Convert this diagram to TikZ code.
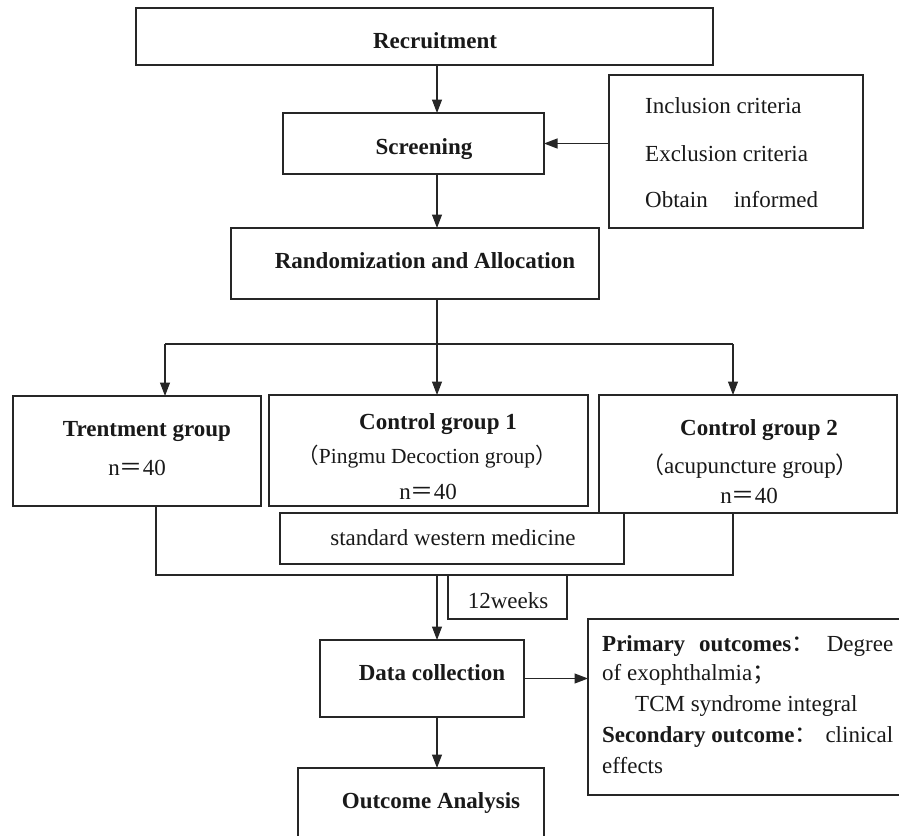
\documentclass[tikz,border=0pt]{standalone}
\usepackage{fontspec}
\setmainfont{Liberation Serif}
\newfontfamily\cjk{Noto Sans CJK SC}
\usetikzlibrary{arrows.meta}
\newcommand{\fw}[1]{{\cjk #1}}
\begin{document}
\begin{tikzpicture}[x=1pt,y=-1pt,
  bx/.style={draw=black!85, line width=1.1pt, inner sep=0pt, outer sep=0pt, anchor=north west},
  tx/.style={font=\fontsize{23}{27}\selectfont, inner sep=0pt, anchor=base, text=black!90},
  txl/.style={tx, anchor=base west},
  ln/.style={draw=black!85, line width=1.1pt},
  arr/.style={ln, -{Triangle[length=13.5pt,width=10pt]}}]
\useasboundingbox (0,0) rectangle (899,835);
\clip (0,0) rectangle (899,835);
\fill[white] (0,0) rectangle (899,835);
% boxes
\node[bx, minimum width=577pt, minimum height=57pt] (rec) at (136,8) {};
\node[bx, minimum width=261pt, minimum height=61pt] (scr) at (283,113) {};
\node[bx, minimum width=254pt, minimum height=153pt] (crit) at (609,75) {};
\node[bx, minimum width=368pt, minimum height=71pt] (rand) at (231,228) {};
\node[bx, minimum width=248pt, minimum height=110pt] (trt) at (13,396) {};
\node[bx, minimum width=319pt, minimum height=111pt] (c1) at (269,395) {};
\node[bx, minimum width=298pt, minimum height=118pt] (c2) at (599,395) {};
\node[bx, minimum width=344pt, minimum height=51pt] (swm) at (280,513) {};
\node[bx, minimum width=119pt, minimum height=44pt] (wk) at (448,575) {};
\node[bx, minimum width=204pt, minimum height=77pt] (dc) at (320,640) {};
\node[bx, minimum width=330pt, minimum height=176pt] (out) at (588,619) {};
\node[bx, minimum width=246pt, minimum height=90pt] (oa) at (298,768) {};
% coordinates
\coordinate (spine) at (437,0);
\coordinate (split) at (437,344);
\coordinate (sl) at (165,344);
\coordinate (sr) at (733,344);
\coordinate (jl) at (156,575);
\coordinate (jr) at (733,575);
\coordinate (jm) at (437,575);
% connectors
\draw[arr] (rec.south -| spine) -- (scr.north -| spine);
\draw[arr] (crit.west |- scr.east) -- (scr.east);
\draw[arr] (scr.south -| spine) -- (rand.north -| spine);
\draw[ln] (rand.south -| spine) -- (split);
\draw[ln] (sl) -- (sr);
\draw[arr] (sl) -- (sl |- trt.north);
\draw[arr] (split) -- (split |- c1.north);
\draw[arr] (sr) -- (sr |- c2.north);
\draw[ln] (jl |- trt.south) -- (jl) -- (jr) -- (jr |- c2.south);
\draw[arr] (jm) -- (jm |- dc.north);
\draw[arr] (dc.east) -- (dc.east -| out.west);
\draw[arr] (dc.south -| spine) -- (oa.north -| spine);
% texts
\node[tx] (trec) at (435,48) {\textbf{Recruitment}};
\node[tx] (tscr) at (424,154) {\textbf{Screening}};
\node[txl] (tc1) at (645,113) {Inclusion criteria};
\node[txl] (tc2) at (645,161) {Exclusion criteria};
\node[txl] (tc3) at (645,207) {Obtain\hspace{26pt}informed};
\node[tx] (trand) at (425,268) {\textbf{Randomization and Allocation}};
\node[tx] (ttrt) at (147,436) {\textbf{Trentment group}};
\node[tx] (ttrtn) at (137,475) {n\fw{＝}40};
\node[tx] (tc1a) at (438,429) {\textbf{Control group 1}};
\node[tx, font=\fontsize{21.5}{25}\selectfont] (tc1b) at (427,463) {\fw{（}Pingmu Decoction group\fw{）}};
\node[tx] (tc1n) at (428,499) {n\fw{＝}40};
\node[tx] (tc2a) at (759,435) {\textbf{Control group 2}};
\node[tx] (tc2b) at (750,473) {\fw{（}acupuncture group\fw{）}};
\node[tx] (tc2n) at (749,503) {n\fw{＝}40};
\node[tx] (tswm) at (453,545) {standard western medicine};
\node[tx] (twk) at (508,608) {12weeks};
\node[tx] (tdc) at (432,680) {\textbf{Data collection}};
\node[txl] (to1) at (602,651) {\makebox[291pt][l]{\textbf{Primary}\hspace{14pt}\textbf{outcomes}\fw{：}\hfill Degree}};
\node[txl] (to2) at (602,680) {of exophthalmia\fw{；}};
\node[txl] (to3) at (635,711) {TCM syndrome integral};
\node[txl] (to4) at (602,742) {\makebox[291pt][l]{\textbf{Secondary outcome}\fw{：}\hfill clinical}};
\node[txl] (to5) at (602,773) {effects};
\node[tx] (toa) at (431,808) {\textbf{Outcome Analysis}};
\end{tikzpicture}
\end{document}
